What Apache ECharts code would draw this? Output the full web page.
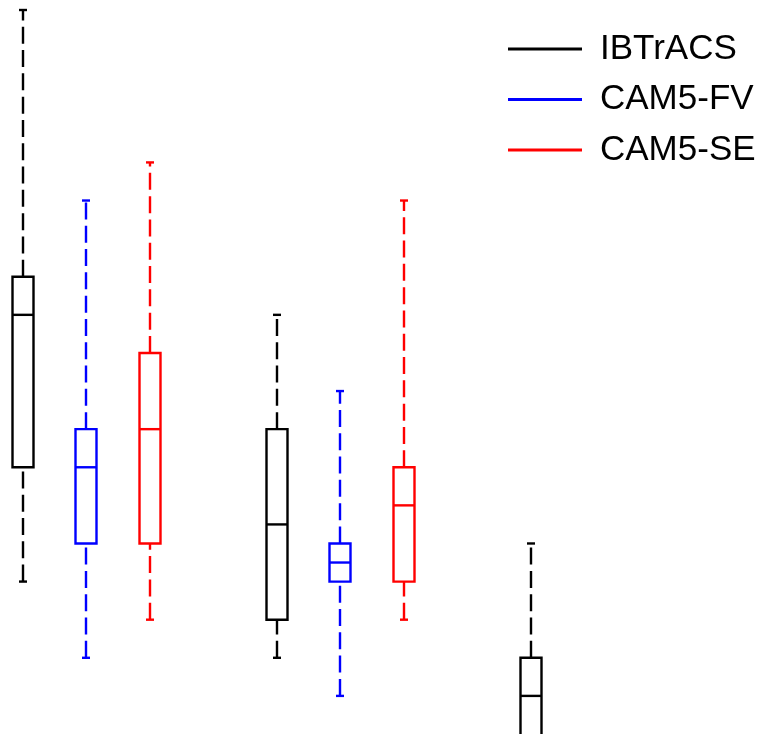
<!DOCTYPE html>
<html>
<head>
<meta charset="utf-8">
<script src="https://cdn.jsdelivr.net/npm/echarts@6/dist/echarts.min.js"></script>
<style>
  html, body { margin: 0; padding: 0; background: #fff; }
  #chart { width: 762px; height: 734px; }
</style>
</head>
<body>
<div id="chart"></div>
<script>
// Box statistics per dataset: [min, Q1, median, Q3, max] for each group
const seriesNames = ['IBTrACS', 'CAM5-FV', 'CAM5-SE'];
const seriesColors = ['#000000', '#0000ff', '#ff0000'];
const ibtracs = [[15, 18, 22, 23, 30], [13, 14, 16.5, 19, 22], [8, 10, 12, 13, 16]];
const cam5fv  = [[13, 16, 18, 19, 25], [12, 15, 15.5, 16, 20], null];
const cam5se  = [[14, 16, 19, 21, 26], [14, 15, 17, 18, 25], null];
const seriesStats = [ibtracs, cam5fv, cam5se];
const slotsPerGroup = 4; // three boxes plus a gap

function renderBox(params, api) {
  const x = api.value(0);
  const lo = api.value(1), q1 = api.value(2), med = api.value(3), q3 = api.value(4), hi = api.value(5);
  const color = seriesColors[params.seriesIndex];
  const cx = Math.round(api.coord([x, med])[0]);
  const yLo = api.coord([x, lo])[1];
  const yQ1 = api.coord([x, q1])[1];
  const yMed = api.coord([x, med])[1];
  const yQ3 = api.coord([x, q3])[1];
  const yHi = api.coord([x, hi])[1];
  const hw = 10.5, cw = 4;
  const lw = 2.4;
  const solid = { stroke: color, lineWidth: lw, fill: null };
  const dashed = { stroke: color, lineWidth: lw, lineDash: [17, 6.3], fill: null };
  return {
    type: 'group',
    children: [
      // whiskers run upward, from the lower value to the higher one
      { type: 'line', shape: { x1: cx, y1: yQ3, x2: cx, y2: yHi }, style: dashed },
      { type: 'line', shape: { x1: cx, y1: yLo, x2: cx, y2: yQ1 }, style: dashed },
      { type: 'line', shape: { x1: cx - cw, y1: yHi, x2: cx + cw, y2: yHi }, style: solid },
      { type: 'line', shape: { x1: cx - cw, y1: yLo, x2: cx + cw, y2: yLo }, style: solid },
      { type: 'rect', shape: { x: cx - hw, y: yQ3, width: 2 * hw, height: yQ1 - yQ3 }, style: { stroke: color, lineWidth: lw, fill: '#fff' } },
      { type: 'line', shape: { x1: cx - hw, y1: yMed, x2: cx + hw, y2: yMed }, style: solid }
    ]
  };
}

const series = seriesNames.map((name, s) => ({
  name: name,
  type: 'custom',
  renderItem: renderBox,
  itemStyle: { color: seriesColors[s] },
  clip: false,
  encode: { x: 0, y: [1, 2, 3, 4, 5] },
  data: seriesStats[s]
    .map((st, g) => st ? [g * slotsPerGroup + s].concat(st) : null)
    .filter(d => d !== null)
}));

const chart = echarts.init(document.getElementById('chart'), null, { renderer: 'canvas' });
chart.setOption({
  animation: false,
  backgroundColor: '#fff',
  grid: { left: 23, right: 41, top: 10, bottom: 0 },
  xAxis: { type: 'value', min: 0, max: 11, show: false },
  yAxis: { type: 'value', min: 11, max: 30, show: false },
  legend: {
    orient: 'vertical',
    left: 508,
    top: 29,
    padding: 0,
    itemWidth: 74,
    itemHeight: 3,
    itemGap: 10.5,
    textStyle: {
      fontFamily: 'Liberation Sans, Arial, sans-serif',
      fontSize: 35,
      lineHeight: 40,
      color: '#000',
      padding: [0, 0, 0, 13]
    },
    data: seriesNames.map((n, i) => ({ name: n, icon: 'rect', itemStyle: { color: seriesColors[i], borderWidth: 0 } }))
  },
  series: series
});
</script>
</body>
</html>
